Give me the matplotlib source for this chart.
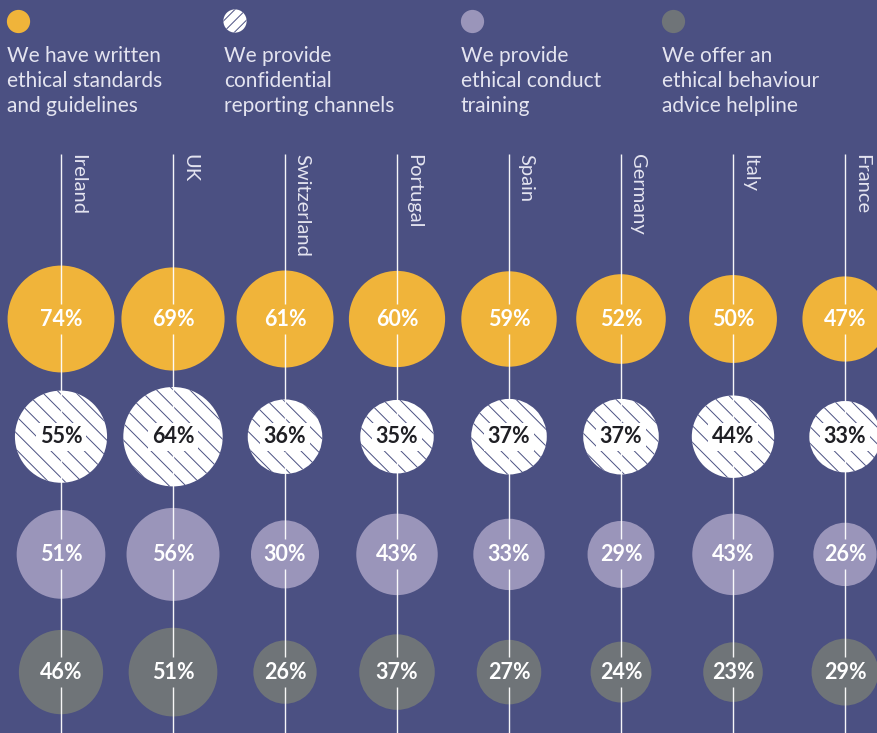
import matplotlib
matplotlib.use("Agg")
import matplotlib.pyplot as plt
import numpy as np

# --- data -------------------------------------------------------------
countries = ["Ireland", "UK", "Switzerland", "Portugal", "Spain", "Germany", "Italy", "France"]
written_standards = [74, 69, 61, 60, 59, 52, 50, 47]
reporting_channels = [55, 64, 36, 35, 37, 37, 44, 33]
conduct_training = [51, 56, 30, 43, 33, 29, 43, 26]
advice_helpline = [46, 51, 26, 37, 27, 24, 23, 29]

series_labels = [
    "We have written\nethical standards\nand guidelines",
    "We provide\nconfidential\nreporting channels",
    "We provide\nethical conduct\ntraining",
    "We offer an\nethical behaviour\nadvice helpline",
]

# --- style ------------------------------------------------------------
BG = "#4b5082"
YELLOW = "#f0b43a"
LILAC = "#9a95ba"
GREY = "#6f7478"
WHITE = "#ffffff"
TEXT_LIGHT = "#e4e4f0"
FONT = "Lato"

W, H, DPI = 878, 733, 100
fig = plt.figure(figsize=(W / DPI, H / DPI), dpi=DPI, facecolor=BG)

# main grid axes: x = country index, y = series index
ax = fig.add_axes([0, 0, 1, 1])
ax.set_facecolor(BG)
col_px0, col_step = 61, 112
row_px0, row_step = 319, 117.7
ax.set_xlim(-col_px0 / col_step, (W - col_px0) / col_step)
ax.set_ylim((H - row_px0) / row_step, -row_px0 / row_step)
ax.axis("off")

series = [written_standards, reporting_channels, conduct_training, advice_helpline]
x = np.arange(len(countries))
size_per_pct = 80.0  # marker area (pt^2) per percentage point

# vertical guide lines, interrupted around each value label
line_top = (154 - row_px0) / row_step
line_bottom = (H + 5 - row_px0) / row_step
gap = 15 / row_step
for xi in x:
    edges = [line_top]
    for r in range(len(series)):
        edges += [r - gap, r + gap]
    edges.append(line_bottom)
    for a, b in zip(edges[0::2], edges[1::2]):
        ax.plot([xi, xi], [a, b], color=WHITE, lw=1.0, alpha=0.95,
                solid_capstyle="butt", zorder=3)

plt.rcParams["hatch.linewidth"] = 0.7

fills = [YELLOW, WHITE, LILAC, GREY]
for r, vals in enumerate(series):
    vals = np.asarray(vals)
    if r == 1:
        ax.scatter(x, np.full(len(x), r), s=vals * size_per_pct, facecolor=WHITE,
                   edgecolor=BG, linewidth=0, hatch="\\\\", zorder=2)
    else:
        ax.scatter(x, np.full(len(x), r), s=vals * size_per_pct, color=fills[r],
                   linewidth=0, zorder=2)
    for xi, v in zip(x, vals):
        if r == 1:
            ax.text(xi, r, f"{v}%", ha="center", va="center", fontsize=15.5,
                    fontweight="bold", color="#1f1f24", family=FONT, zorder=4,
                    bbox=dict(facecolor=WHITE, edgecolor="none", pad=2.5))
        else:
            ax.text(xi, r, f"{v}%", ha="center", va="center", fontsize=15.5,
                    fontweight="bold", color=WHITE, family=FONT, zorder=4)

# country names, rotated down the guide lines
for xi, name in zip(x, countries):
    ax.annotate(name, xy=(xi, line_top), xytext=(6, 0), textcoords="offset points",
                rotation=270, ha="left", va="top", fontsize=14.5, color=TEXT_LIGHT,
                family=FONT, fontweight="normal", zorder=4)

# legend across the top
leg = fig.add_axes([0, 0, 1, 1], facecolor="none")
leg.set_xlim(0, W)
leg.set_ylim(H, 0)
leg.axis("off")
icon_x = [18, 235, 472, 673]
text_x = [7, 224, 461, 662]
for i, (ix, tx, label) in enumerate(zip(icon_x, text_x, series_labels)):
    if i == 1:
        leg.scatter([ix], [21], s=280, facecolor=WHITE, edgecolor=BG,
                    linewidth=0, hatch="///")
    else:
        leg.scatter([ix], [21], s=280, color=fills[i], linewidth=0)
    leg.text(tx, 46, label, ha="left", va="top", fontsize=15, color=TEXT_LIGHT,
             family=FONT, fontweight="normal", linespacing=1.3)

fig.savefig("out.png", dpi=DPI, facecolor=BG)
